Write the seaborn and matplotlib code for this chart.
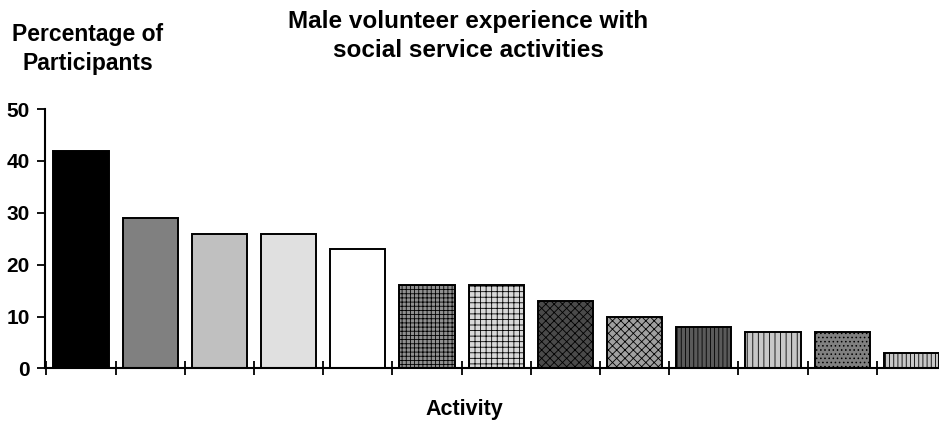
import matplotlib
matplotlib.use("Agg")
import matplotlib.pyplot as plt
import numpy as np
import seaborn as sns

# data (activity names are not shown in the chart)
activities = ["Activity %d" % i for i in range(1, 14)]
percentages = [42, 29, 26, 26, 23, 16, 16, 13, 10, 8, 7, 7, 3]

# fill shades and hatch patterns used by each bar
fills = ["#000000", "#808080", "#c0c0c0", "#e0e0e0", "#ffffff",
         "#909090", "#d8d8d8", "#4a4a4a", "#a0a0a0", "#5a5a5a",
         "#c8c8c8", "#808080", "#c8c8c8"]
hatches = ["", "", "", "", "", "++++", "+++", "xxxx", "xxxx", "||||",
           "|||", "....", "||||"]

sns.set_style("white")
plt.rcParams["font.family"] = ["Liberation Sans", "DejaVu Sans"]
plt.rcParams["hatch.linewidth"] = 0.6
plt.rcParams["text.color"] = "black"
plt.rcParams["ytick.color"] = "black"
plt.rcParams["xtick.color"] = "black"

fig = plt.figure(figsize=(9.39, 4.26), dpi=100)
ax = fig.add_axes([45 / 939, 0.135, 901 / 939, 0.609])

sns.barplot(x=activities, y=percentages, hue=activities, palette=fills,
            legend=False, width=0.8, edgecolor="black", linewidth=1.4,
            saturation=1, ax=ax)
for patch, h in zip(ax.patches, hatches):
    patch.set_hatch(h)

ax.set_ylim(0, 50)
ax.set_xlim(-0.52, 12.5)
ax.set_yticks(np.arange(0, 51, 10))
ax.set_xticks(np.arange(-0.5, 13, 1))
ax.set_xticklabels([])
ax.tick_params(axis="y", direction="out", length=6, width=1.3,
               labelsize=15, pad=5, left=True, labelcolor="black")
ax.tick_params(axis="x", direction="inout", length=10, width=1.3, bottom=True)
for lab in ax.get_yticklabels():
    lab.set_fontweight("bold")
ax.set_xlabel("")
ax.set_ylabel("")

for side in ["top", "right"]:
    ax.spines[side].set_visible(False)
for side in ["left", "bottom"]:
    ax.spines[side].set_linewidth(1.5)
    ax.spines[side].set_color("black")

fig.text(0.499, 1 - 36 / 426,
         "Male volunteer experience with\nsocial service activities",
         ha="center", va="center", fontsize=17.5, fontweight="bold",
         linespacing=1.3)
fig.text(88 / 939, 1 - 49 / 426, "Percentage of\nParticipants",
         ha="center", va="center", fontsize=16.5, fontweight="bold",
         linespacing=1.3)
fig.text(464 / 939, 1 - 409 / 426, "Activity", ha="center", va="center",
         fontsize=15.5, fontweight="bold")

fig.savefig("out.png", dpi=100)
